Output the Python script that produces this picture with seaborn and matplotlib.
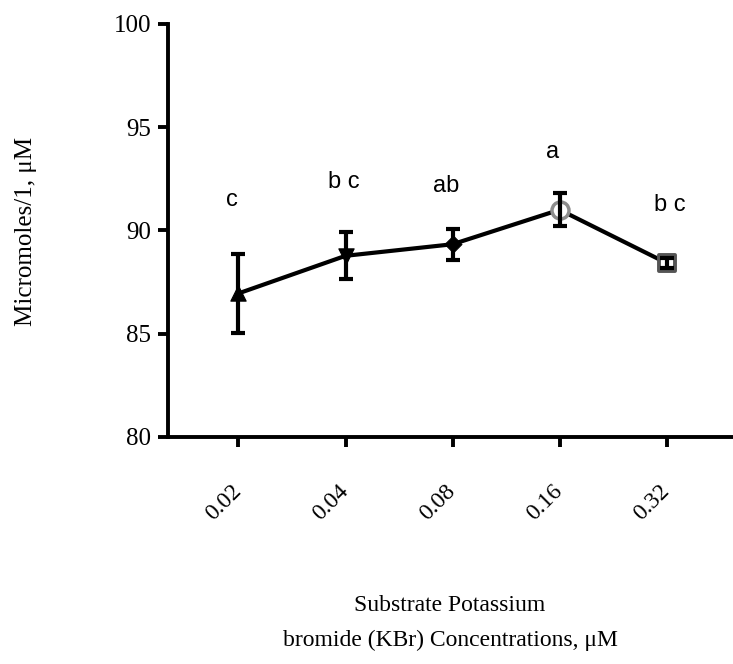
import matplotlib
matplotlib.use("Agg")
import matplotlib.pyplot as plt
import seaborn as sns
import pandas as pd

# Data
concentrations = ["0.02", "0.04", "0.08", "0.16", "0.32"]
means = [86.95, 88.77, 89.33, 91.0, 88.42]
errors = [1.93, 1.13, 0.74, 0.81, 0.25]
letters = ["c", "b c", "ab", "a", "b c"]
letter_y = [91.45, 92.34, 92.13, 93.8, 91.25]
letter_dx = [-0.06, -0.02, -0.06, -0.07, 0.03]
y_ticks = [80, 85, 90, 95, 100]

df = pd.DataFrame({"pos": range(len(concentrations)), "conc": concentrations,
                   "mean": means, "err": errors})

sns.set_style("ticks", {"axes.edgecolor": "black", "xtick.color": "black",
                        "ytick.color": "black", "text.color": "black"})
fig = plt.figure(figsize=(7.33, 6.64), dpi=100)
ax = fig.add_axes([0.229, 0.342, 0.771, 0.622])

sns.lineplot(data=df, x="pos", y="mean", ax=ax, color="black", linewidth=3,
             zorder=2)

# one marker style per concentration
marker_styles = [
    dict(marker="^", s=120, color="black", edgecolor="black"),
    dict(marker="v", s=120, color="black", edgecolor="black"),
    dict(marker="D", s=75, color="black", edgecolor="black"),
    dict(marker="o", s=150, color="white", edgecolor="#8c8c8c", linewidth=2.5),
    dict(marker="s", s=135, color="white", edgecolor="#555555", linewidth=2.8),
]
for i, st in enumerate(marker_styles):
    sns.scatterplot(x=[df["pos"][i]], y=[df["mean"][i]], ax=ax, zorder=3,
                    legend=False, **st)

ax.errorbar(df["pos"], df["mean"], yerr=df["err"], fmt="none", ecolor="black",
            elinewidth=3, capsize=4.8, capthick=3, zorder=4)

for i, lab in enumerate(letters):
    ax.text(i + letter_dx[i], letter_y[i], lab, ha="center", va="center",
            fontsize=17, family="Liberation Sans", color="black")

ax.set_xlim(-0.66, 4.62)
ax.set_ylim(80, 100)
ax.set_yticks(y_ticks)
ax.set_yticklabels([str(v) for v in y_ticks], family="Liberation Serif",
                   fontsize=18, color="black")
ax.set_xticks(df["pos"])
ax.set_xticklabels(concentrations, family="Liberation Serif", fontsize=17,
                   rotation=45, ha="right", va="center",
                   rotation_mode="anchor", color="black")

for s in ["top", "right"]:
    ax.spines[s].set_visible(False)
for s in ["left", "bottom"]:
    ax.spines[s].set_linewidth(2.8)
    ax.spines[s].set_color("black")
ax.tick_params(axis="both", length=7, width=2.8, color="black")
ax.tick_params(axis="y", pad=5)
ax.tick_params(axis="x", pad=30)

ax.set_xlabel("")
ax.set_ylabel("")
fig.text(0.036, 0.652, "Micromoles/1, μM", rotation=90, ha="center",
         va="center", fontsize=18, family=["Liberation Serif", "DejaVu Sans"])
fig.text(0.614, 0.088, "Substrate Potassium", ha="center", va="center",
         fontsize=17, family="Liberation Serif")
fig.text(0.614, 0.036, "bromide (KBr) Concentrations, μM", ha="center",
         va="center", fontsize=17, family="Liberation Serif")

fig.savefig("out.png", dpi=100)
